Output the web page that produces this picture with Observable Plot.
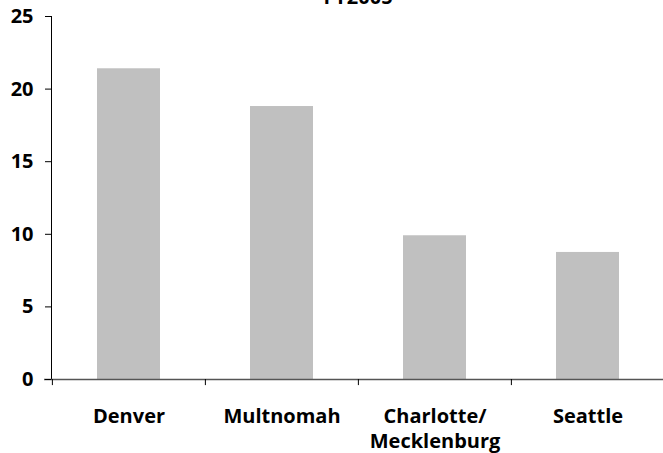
<!DOCTYPE html>
<html>
<head>
<meta charset="utf-8">
<script src="https://cdn.jsdelivr.net/npm/d3@7"></script>
<script src="https://cdn.jsdelivr.net/npm/@observablehq/plot@0.6"></script>
<style>
  html, body { margin: 0; padding: 0; background: #fff; overflow: hidden; }
  #wrap { position: relative; width: 663px; height: 453px; overflow: hidden; }
  #title { position: absolute; top: -17px; left: 0; width: 716px; text-align: center;
           font-family: "Open Sans", sans-serif; font-weight: 700; font-size: 20px; color: #000; }
  svg { font-family: "Open Sans", sans-serif; font-weight: 700; }
</style>
</head>
<body>
<div id="wrap"><div id="title">FY2005</div></div>
<script>
const categories = ["Denver", "Multnomah", "Charlotte/\nMecklenburg", "Seattle"];
const values = [21.4, 18.8, 9.9, 8.75];
const yTicks = [0, 5, 10, 15, 20, 25];

const data = categories.map((c, i) => ({category: c, value: values[i]}));
const step = 613 / categories.length;

const chart = Plot.plot({
  width: 663,
  height: 453,
  marginLeft: 51,
  marginRight: 0,
  marginTop: 16,
  marginBottom: 74,
  style: {fontFamily: "Open Sans, sans-serif", fontWeight: 700, color: "#000", background: "transparent", overflow: "visible"},
  x: {domain: categories, range: [51, 664], paddingInner: 0.59, paddingOuter: 0.295},
  y: {domain: [0, 25]},
  marks: [
    Plot.barY(data, {x: "category", y: "value", fill: "#c0c0c0"}),
    Plot.frame({anchor: "left", stroke: "#000"}),
    Plot.ruleY([0], {stroke: "#555", strokeWidth: 1.5, insetLeft: -7}),
    Plot.ruleX(categories, {x: d => d, y1: 0, y2: -0.42, dx: -step / 2, stroke: "#000"}),
    Plot.axisY({ticks: yTicks, tickSize: 6, tickPadding: 12, fontSize: 20, fontWeight: 700, label: null}),
    Plot.axisX({tickSize: 0, tickPadding: 26, fontSize: 20, fontWeight: 700, lineHeight: 1.25, label: null})
  ]
});
document.getElementById("wrap").appendChild(chart);
</script>
</body>
</html>
